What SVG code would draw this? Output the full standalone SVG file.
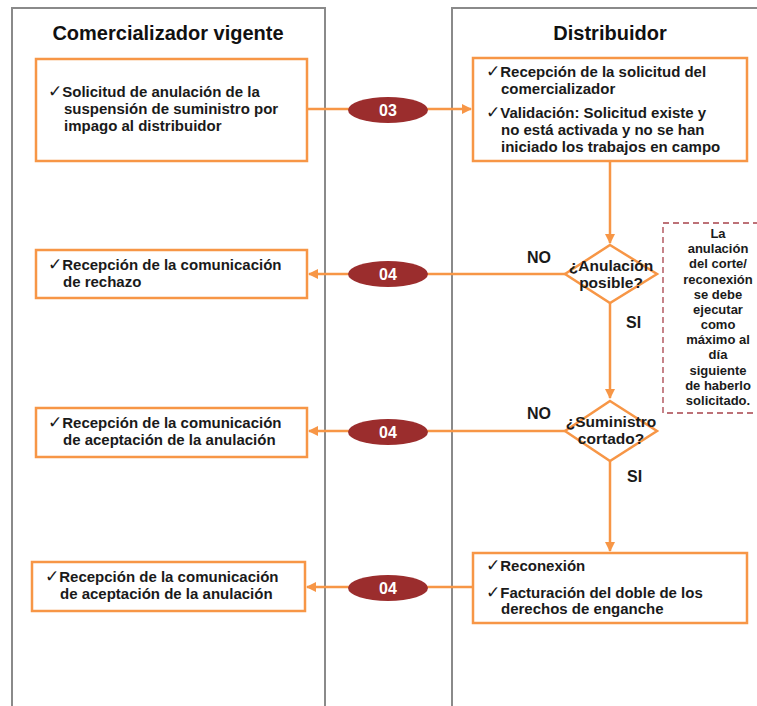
<svg xmlns="http://www.w3.org/2000/svg" width="757" height="706" viewBox="0 0 757 706">
<defs>
<style>
.lane{fill:none;stroke:#8a8a8a;stroke-width:2}
.box{fill:#fff;stroke:#F79646;stroke-width:2.5}
.conn{fill:none;stroke:#F79646;stroke-width:2.5}
.oval{fill:#9B2D2D}
.ot{font-family:"Liberation Sans",Arial,sans-serif;font-weight:bold;font-size:16px;fill:#fff;text-anchor:middle}
.t{font-family:"Liberation Sans",Arial,sans-serif;font-weight:bold;font-size:15px;fill:#1a1a1a}
.ck{font-family:"DejaVu Sans",sans-serif;font-weight:normal;font-size:17px}
.h{font-family:"Liberation Sans",Arial,sans-serif;font-weight:bold;font-size:20px;fill:#111;text-anchor:middle}
.lbl{font-family:"Liberation Sans",Arial,sans-serif;font-weight:bold;font-size:16px;fill:#1a1a1a}
.dt{font-family:"Liberation Sans",Arial,sans-serif;font-weight:bold;font-size:15.5px;fill:#1a1a1a;text-anchor:middle}
.note{font-family:"Liberation Sans",Arial,sans-serif;font-weight:bold;font-size:13px;fill:#1a1a1a;text-anchor:middle}
</style>
<marker id="ah" markerWidth="10" markerHeight="10" refX="9" refY="5" orient="auto" markerUnits="userSpaceOnUse">
<path d="M0,0 L10,5 L0,10 z" fill="#F79646"/>
</marker>
</defs>

<g id="lane-comercializador">
<path class="lane" d="M12,706 V8 H325 V706"/>
<text class="h" x="168" y="40">Comercializador vigente</text>
</g>
<g id="lane-distribuidor">
<path class="lane" d="M452,706 V8 H760"/>
<text class="h" x="610" y="40">Distribuidor</text>
</g>

<g id="connectors">
<path class="conn" d="M307,109 H471" marker-end="url(#ah)"/>
<path class="conn" d="M610,162 V243" marker-end="url(#ah)"/>
<path class="conn" d="M565,274 H309" marker-end="url(#ah)"/>
<path class="conn" d="M610,303 V398" marker-end="url(#ah)"/>
<path class="conn" d="M565,431 H309" marker-end="url(#ah)"/>
<path class="conn" d="M610,461 V551" marker-end="url(#ah)"/>
<path class="conn" d="M473,587 H307" marker-end="url(#ah)"/>
</g>

<g id="oval-03">
<ellipse class="oval" cx="388" cy="110" rx="40" ry="13"/>
<text class="ot" x="388" y="115.7">03</text>
</g>
<g id="oval-04a">
<ellipse class="oval" cx="388" cy="274" rx="40" ry="13"/>
<text class="ot" x="388" y="279.7">04</text>
</g>
<g id="oval-04b">
<ellipse class="oval" cx="388" cy="432" rx="40" ry="13"/>
<text class="ot" x="388" y="437.7">04</text>
</g>
<g id="oval-04c">
<ellipse class="oval" cx="388" cy="588" rx="40" ry="13"/>
<text class="ot" x="388" y="593.7">04</text>
</g>

<g id="box-solicitud">
<rect class="box" x="36" y="59" width="271" height="102"/>
<text class="t" x="48" y="97"><tspan class="ck">✓</tspan>Solicitud de anulación de la</text>
<text class="t" x="64" y="114">suspensión de suministro por</text>
<text class="t" x="64" y="131">impago al distribuidor</text>
</g>

<g id="box-recepcion-solicitud">
<rect class="box" x="473" y="58" width="274" height="103"/>
<text class="t" x="486" y="77"><tspan class="ck">✓</tspan>Recepción de la solicitud del</text>
<text class="t" x="501" y="94">comercializador</text>
<text class="t" x="486" y="118"><tspan class="ck">✓</tspan>Validación:  Solicitud existe y</text>
<text class="t" x="501" y="135">no está activada y no se han</text>
<text class="t" x="501" y="152">iniciado los trabajos en campo</text>
</g>

<g id="diamond-anulacion">
<polygon class="box" points="610,245 657,274 610,303 565,274"/>
<text class="dt" x="611" y="271">¿Anulación</text>
<text class="dt" x="611" y="288">posible?</text>
</g>
<text class="lbl" x="527" y="263">NO</text>
<text class="lbl" x="626" y="328">SI</text>

<g id="diamond-suministro">
<polygon class="box" points="610,401 657,431 610,461 565,431"/>
<text class="dt" x="611" y="427">¿Suministro</text>
<text class="dt" x="611" y="444">cortado?</text>
</g>
<text class="lbl" x="527" y="419">NO</text>
<text class="lbl" x="627" y="482">SI</text>

<g id="note">
<rect x="663" y="223" width="100" height="190" fill="none" stroke="#A8434B" stroke-width="1.3" stroke-dasharray="6,4"/>
<text class="note" x="718" y="238">La</text>
<text class="note" x="718" y="253">anulación</text>
<text class="note" x="718" y="268">del corte/</text>
<text class="note" x="718" y="284">reconexión</text>
<text class="note" x="718" y="299">se debe</text>
<text class="note" x="718" y="314">ejecutar</text>
<text class="note" x="718" y="329">como</text>
<text class="note" x="718" y="344">máximo al</text>
<text class="note" x="718" y="359">día</text>
<text class="note" x="718" y="375">siguiente</text>
<text class="note" x="718" y="390">de haberlo</text>
<text class="note" x="718" y="405">solicitado.</text>
</g>

<g id="box-rechazo">
<rect class="box" x="36" y="250" width="271" height="48"/>
<text class="t" x="48" y="270"><tspan class="ck">✓</tspan>Recepción de la comunicación</text>
<text class="t" x="63" y="287">de rechazo</text>
</g>

<g id="box-aceptacion-1">
<rect class="box" x="36" y="408" width="271" height="49"/>
<text class="t" x="48" y="428"><tspan class="ck">✓</tspan>Recepción de la comunicación</text>
<text class="t" x="63" y="445">de aceptación de la anulación</text>
</g>

<g id="box-reconexion">
<rect class="box" x="473" y="553" width="274" height="70"/>
<text class="t" x="486" y="571"><tspan class="ck">✓</tspan>Reconexión</text>
<text class="t" x="486" y="598"><tspan class="ck">✓</tspan>Facturación del doble de los</text>
<text class="t" x="501" y="614">derechos de enganche</text>
</g>

<g id="box-aceptacion-2">
<rect class="box" x="32" y="562" width="273" height="49"/>
<text class="t" x="45" y="582"><tspan class="ck">✓</tspan>Recepción de la comunicación</text>
<text class="t" x="60" y="599">de aceptación de la anulación</text>
</g>
</svg>
